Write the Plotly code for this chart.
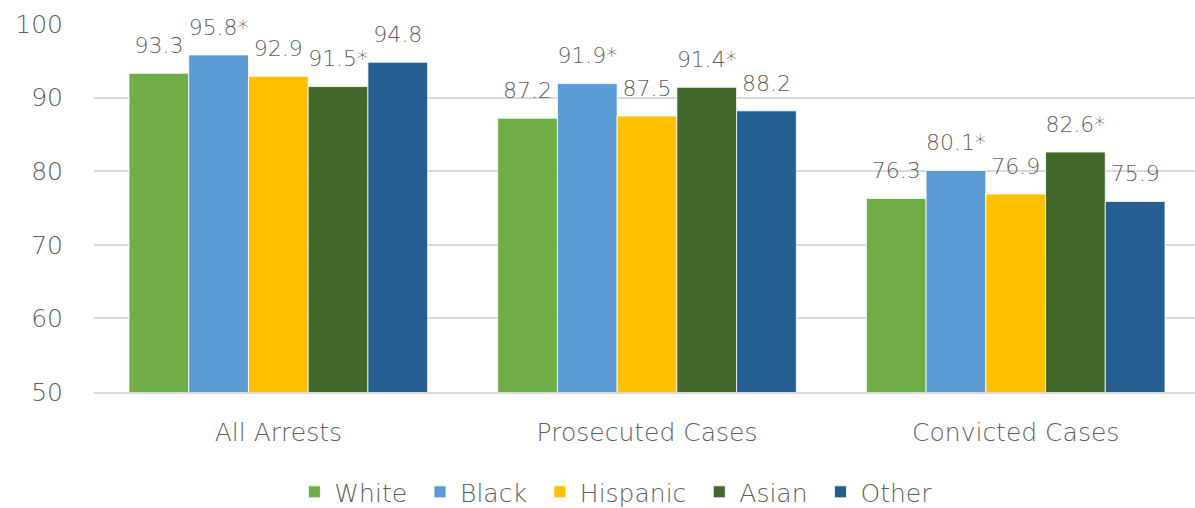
import plotly.graph_objects as go

categories = ["All Arrests", "Prosecuted Cases", "Convicted Cases"]
series_names = ["White", "Black", "Hispanic", "Asian", "Other"]
white = [93.3, 87.2, 76.3]
black = [95.8, 91.9, 80.1]
hispanic = [92.9, 87.5, 76.9]
asian = [91.5, 91.4, 82.6]
other = [94.8, 88.2, 75.9]
# significance flags (asterisk)
white_sig = [False, False, False]
black_sig = [True, True, True]
hispanic_sig = [False, False, False]
asian_sig = [True, True, True]
other_sig = [False, False, False]
y_ticks = [50, 60, 70, 80, 90, 100]

colors = ["#70AD47", "#5B9BD5", "#FFC000", "#43682B", "#255E91"]
FONT = "DejaVu Sans"
W = 200
GRAY = "#5f5f5f"

fig = go.Figure()
n = len(series_names)
for i, (name, vals, sig, col) in enumerate(zip(series_names, [white, black, hispanic, asian, other],
                                [white_sig, black_sig, hispanic_sig, asian_sig, other_sig], colors)):
    labels = ["<span style='font-size:22px'>" + f"{v:.1f}" + ("*" if s else "") + "</span><br> "
              for v, s in zip(vals, sig)]
    legend_name = name + ("\u00a0" if i < n - 1 else "")
    fig.add_trace(go.Bar(
        name=legend_name, x=categories, y=vals, text=labels, textposition="outside",
        textfont=dict(family=FONT, size=11, color=GRAY, weight=W),
        marker=dict(color=col, line=dict(color="white", width=0.8)),
        cliponaxis=False,
    ))

fig.update_layout(
    barmode="group", bargap=0.19, bargroupgap=0,
    width=1195, height=508,
    margin=dict(l=94, r=0, t=24, b=116, autoexpand=False),
    plot_bgcolor="white", paper_bgcolor="white",
    font=dict(family=FONT, color=GRAY, weight=W),
    showlegend=True,
    legend=dict(orientation="h", x=0.474, xanchor="center", y=-0.272, yanchor="middle",
                font=dict(family=FONT, size=25, color=GRAY, weight=W),
                itemwidth=30, traceorder="normal"),
    uniformtext=dict(mode=False),
)
fig.update_yaxes(range=[50, 100], tickvals=y_ticks, showgrid=True, gridcolor="#D9D9D9", gridwidth=1.5,
                 zeroline=False, showline=False, ticklabelstandoff=30, automargin=False,
                 tickfont=dict(family=FONT, size=25, color=GRAY, weight=W))
fig.update_xaxes(range=[-0.5, 2.4864], showline=True, linecolor="#D9D9D9", linewidth=1.5,
                 ticks="", ticklabelstandoff=17, automargin=False,
                 tickfont=dict(family=FONT, size=25, color=GRAY, weight=W))

fig.write_html("out.html")
